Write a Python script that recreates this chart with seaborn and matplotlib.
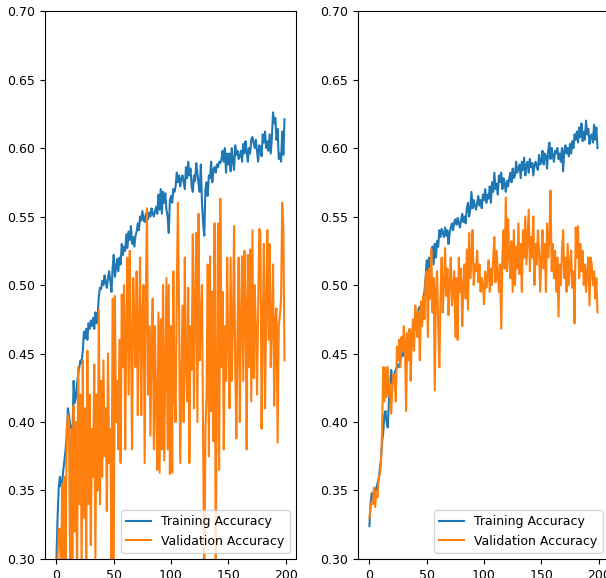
import matplotlib

matplotlib.use("Agg")
import matplotlib.pyplot as plt
import numpy as np
import seaborn as sns

epochs = np.arange(200)

# left run: training / validation accuracy
train_acc_a = [
    0.300, 0.330, 0.352, 0.360, 0.353, 0.356, 0.365, 0.372, 0.380, 0.390,
    0.410, 0.404, 0.398, 0.394, 0.392, 0.430, 0.414, 0.418, 0.428, 0.435,
    0.440, 0.445, 0.443, 0.452, 0.466, 0.461, 0.468, 0.460, 0.472, 0.468,
    0.474, 0.470, 0.476, 0.468, 0.480, 0.472, 0.478, 0.492, 0.498, 0.497,
    0.503, 0.500, 0.507, 0.502, 0.498, 0.505, 0.510, 0.503, 0.495, 0.512,
    0.522, 0.506, 0.512, 0.519, 0.510, 0.520, 0.515, 0.530, 0.522, 0.528,
    0.525, 0.537, 0.527, 0.539, 0.533, 0.543, 0.530, 0.535, 0.528, 0.536,
    0.539, 0.545, 0.540, 0.550, 0.547, 0.554, 0.548, 0.546, 0.552, 0.550,
    0.548, 0.553, 0.550, 0.556, 0.552, 0.550, 0.554, 0.557, 0.552, 0.566,
    0.555, 0.570, 0.552, 0.568, 0.560, 0.567, 0.555, 0.550, 0.538, 0.562,
    0.565, 0.560, 0.570, 0.568, 0.572, 0.582, 0.575, 0.580, 0.572, 0.578,
    0.580, 0.575, 0.570, 0.586, 0.578, 0.590, 0.580, 0.585, 0.572, 0.568,
    0.580, 0.576, 0.589, 0.582, 0.574, 0.568, 0.588, 0.560, 0.545, 0.536,
    0.570, 0.575, 0.565, 0.580, 0.578, 0.590, 0.575, 0.584, 0.586, 0.582,
    0.588, 0.586, 0.590, 0.589, 0.592, 0.598, 0.590, 0.600, 0.582, 0.596,
    0.588, 0.596, 0.583, 0.600, 0.590, 0.584, 0.602, 0.595, 0.598, 0.592,
    0.594, 0.598, 0.590, 0.603, 0.596, 0.605, 0.598, 0.590, 0.600, 0.596,
    0.606, 0.608, 0.604, 0.600, 0.606, 0.598, 0.590, 0.602, 0.600, 0.594,
    0.610, 0.604, 0.612, 0.600, 0.605, 0.598, 0.610, 0.596, 0.608, 0.626,
    0.618, 0.622, 0.606, 0.614, 0.592, 0.596, 0.590, 0.612, 0.595, 0.621,
]
val_acc_a = [
    0.290, 0.300, 0.322, 0.322, 0.280, 0.355, 0.290, 0.360, 0.300, 0.395,
    0.405, 0.400, 0.280, 0.395, 0.290, 0.412, 0.320, 0.400, 0.280, 0.440,
    0.340, 0.420, 0.290, 0.445, 0.330, 0.410, 0.300, 0.452, 0.340, 0.420,
    0.310, 0.395, 0.360, 0.442, 0.300, 0.420, 0.350, 0.482, 0.340, 0.430,
    0.360, 0.445, 0.375, 0.410, 0.335, 0.450, 0.370, 0.395, 0.300, 0.490,
    0.290, 0.492, 0.400, 0.430, 0.380, 0.460, 0.370, 0.493, 0.440, 0.500,
    0.380, 0.470, 0.520, 0.420, 0.525, 0.460, 0.380, 0.505, 0.470, 0.440,
    0.510, 0.405, 0.470, 0.520, 0.405, 0.480, 0.500, 0.370, 0.490, 0.556,
    0.420, 0.470, 0.390, 0.460, 0.490, 0.380, 0.470, 0.410, 0.365, 0.480,
    0.363, 0.475, 0.380, 0.500, 0.372, 0.440, 0.505, 0.380, 0.500, 0.362,
    0.470, 0.363, 0.510, 0.420, 0.400, 0.495, 0.560, 0.480, 0.370, 0.430,
    0.485, 0.400, 0.520, 0.440, 0.415, 0.498, 0.370, 0.470, 0.438, 0.537,
    0.410, 0.485, 0.538, 0.400, 0.552, 0.445, 0.475, 0.500, 0.380, 0.270,
    0.395, 0.420, 0.515, 0.375, 0.521, 0.408, 0.495, 0.386, 0.545, 0.280,
    0.430, 0.545, 0.365, 0.563, 0.440, 0.495, 0.380, 0.470, 0.430, 0.520,
    0.455, 0.410, 0.520, 0.430, 0.470, 0.543, 0.440, 0.388, 0.465, 0.520,
    0.400, 0.475, 0.521, 0.430, 0.525, 0.485, 0.380, 0.522, 0.440, 0.526,
    0.415, 0.540, 0.432, 0.500, 0.470, 0.420, 0.480, 0.541, 0.538, 0.395,
    0.470, 0.530, 0.410, 0.480, 0.540, 0.460, 0.530, 0.440, 0.472, 0.515,
    0.412, 0.475, 0.483, 0.385, 0.470, 0.478, 0.490, 0.560, 0.540, 0.445,
]

# right run: training / validation accuracy
train_acc_b = [
    0.324, 0.340, 0.348, 0.345, 0.350, 0.347, 0.352, 0.355, 0.358, 0.365,
    0.372, 0.385, 0.392, 0.405, 0.408, 0.400, 0.396, 0.415, 0.425, 0.438,
    0.428, 0.432, 0.436, 0.438, 0.440, 0.442, 0.440, 0.445, 0.450, 0.448,
    0.452, 0.455, 0.458, 0.452, 0.460, 0.456, 0.462, 0.465, 0.455, 0.468,
    0.472, 0.478, 0.476, 0.483, 0.484, 0.482, 0.486, 0.490, 0.495, 0.505,
    0.518, 0.510, 0.520, 0.508, 0.522, 0.528, 0.515, 0.530, 0.520, 0.532,
    0.528, 0.540, 0.535, 0.541, 0.538, 0.535, 0.542, 0.536, 0.540, 0.530,
    0.538, 0.542, 0.545, 0.540, 0.546, 0.548, 0.544, 0.549, 0.545, 0.542,
    0.548, 0.552, 0.546, 0.550, 0.545, 0.556, 0.560, 0.550, 0.555, 0.568,
    0.556, 0.562, 0.558, 0.555, 0.560, 0.565, 0.558, 0.562, 0.556, 0.566,
    0.562, 0.570, 0.560, 0.566, 0.563, 0.572, 0.560, 0.575, 0.568, 0.582,
    0.570, 0.574, 0.566, 0.580, 0.575, 0.582, 0.570, 0.578, 0.574, 0.568,
    0.576, 0.572, 0.578, 0.582, 0.575, 0.585, 0.578, 0.580, 0.590, 0.582,
    0.585, 0.588, 0.578, 0.590, 0.584, 0.593, 0.580, 0.587, 0.590, 0.582,
    0.592, 0.586, 0.589, 0.580, 0.588, 0.590, 0.586, 0.584, 0.595, 0.588,
    0.590, 0.598, 0.588, 0.596, 0.594, 0.585, 0.598, 0.604, 0.592, 0.600,
    0.594, 0.590, 0.598, 0.596, 0.600, 0.592, 0.596, 0.590, 0.600, 0.583,
    0.598, 0.602, 0.596, 0.600, 0.594, 0.603, 0.596, 0.605, 0.600, 0.610,
    0.606, 0.612, 0.604, 0.615, 0.608, 0.618, 0.605, 0.612, 0.606, 0.620,
    0.610, 0.614, 0.603, 0.608, 0.610, 0.604, 0.617, 0.606, 0.615, 0.600,
]
val_acc_b = [
    0.330, 0.338, 0.342, 0.340, 0.352, 0.338, 0.350, 0.345, 0.358, 0.362,
    0.368, 0.392, 0.440, 0.415, 0.440, 0.418, 0.440, 0.420, 0.428, 0.406,
    0.425, 0.435, 0.432, 0.415, 0.455, 0.445, 0.460, 0.440, 0.462, 0.452,
    0.470, 0.458, 0.408, 0.465, 0.445, 0.468, 0.430, 0.460, 0.475, 0.452,
    0.485, 0.470, 0.462, 0.480, 0.445, 0.488, 0.470, 0.492, 0.475, 0.505,
    0.510, 0.462, 0.512, 0.490, 0.526, 0.480, 0.505, 0.423, 0.495, 0.510,
    0.470, 0.440, 0.490, 0.520, 0.480, 0.500, 0.527, 0.492, 0.512, 0.478,
    0.502, 0.520, 0.485, 0.498, 0.510, 0.462, 0.505, 0.460, 0.520, 0.495,
    0.512, 0.470, 0.500, 0.515, 0.490, 0.526, 0.482, 0.538, 0.505, 0.520,
    0.540, 0.500, 0.515, 0.510, 0.525, 0.502, 0.515, 0.495, 0.505, 0.500,
    0.486, 0.510, 0.498, 0.505, 0.518, 0.495, 0.512, 0.500, 0.520, 0.535,
    0.502, 0.525, 0.510, 0.495, 0.515, 0.468, 0.520, 0.540, 0.512, 0.564,
    0.510, 0.548, 0.520, 0.505, 0.532, 0.495, 0.540, 0.500, 0.528, 0.512,
    0.545, 0.508, 0.530, 0.495, 0.540, 0.520, 0.550, 0.515, 0.535, 0.555,
    0.510, 0.535, 0.520, 0.550, 0.500, 0.530, 0.515, 0.540, 0.525, 0.495,
    0.520, 0.540, 0.512, 0.530, 0.495, 0.545, 0.520, 0.535, 0.569, 0.510,
    0.530, 0.505, 0.525, 0.495, 0.520, 0.477, 0.515, 0.500, 0.525, 0.540,
    0.505, 0.520, 0.495, 0.530, 0.500, 0.515, 0.525, 0.498, 0.510, 0.472,
    0.542, 0.520, 0.543, 0.505, 0.530, 0.510, 0.525, 0.500, 0.515, 0.495,
    0.510, 0.520, 0.485, 0.520, 0.515, 0.500, 0.510, 0.490, 0.505, 0.480,
]

plt.rcParams["font.size"] = 9

fig = plt.figure(figsize=(6.06, 5.78), dpi=100)
# the right panel runs off the canvas like in the original screenshot
ax1 = fig.add_axes([0.0743, 0.0329, 0.414, 0.948])
ax2 = fig.add_axes([0.5908, 0.0329, 0.414, 0.948])

for ax, tr, va in [(ax1, train_acc_a, val_acc_a), (ax2, train_acc_b, val_acc_b)]:
    sns.lineplot(x=epochs, y=tr, ax=ax, color="tab:blue", label="Training Accuracy")
    sns.lineplot(x=epochs, y=va, ax=ax, color="tab:orange", label="Validation Accuracy")
    ax.set_ylim(0.3, 0.7)
    ax.legend(loc="lower right")

fig.savefig("out.png", dpi=100)
